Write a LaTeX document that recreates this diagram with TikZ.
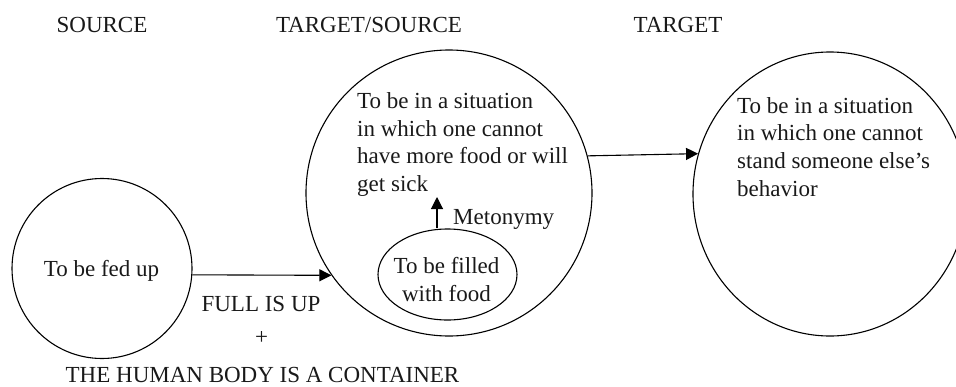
\documentclass[tikz,border=0pt]{standalone}
\usepackage{fontspec}
\setmainfont{Liberation Serif}
\usetikzlibrary{arrows.meta,shapes.geometric}
\begin{document}
\begin{tikzpicture}[x=1pt,y=-1pt,
  txt/.style={font=\fontsize{23}{27.8}\selectfont, inner sep=0pt, text=black!90},
  bubble/.style={draw, line width=1.1pt, inner sep=0pt},
  link/.style={line width=1.1pt, -{Triangle[length=12pt,width=12pt]}}]
\useasboundingbox (0,0) rectangle (956,386);

% column headings
\node[txt, anchor=base] (hsrc) at (102,32) {SOURCE};
\node[txt, anchor=base] (hmid) at (369,32) {TARGET/SOURCE};
\node[txt, anchor=base] (htgt) at (678,32) {TARGET};

% domains
\node[bubble, circle, minimum size=180pt] (src) at (102,268.5) {};
\node[bubble, circle, minimum size=286pt] (mid) at (449,193) {};
\node[bubble, ellipse, minimum width=274pt, minimum height=284pt] (tgt) at (830,194) {};
\node[bubble, ellipse, minimum width=139pt, minimum height=91pt] (food) at (447.5,274.5) {};

% domain contents (base anchor sits on the last line of a wrapped text)
\node[txt, anchor=base] (fed) at (101.5,276) {To be fed up};
\node[txt, anchor=base west, align=left] (midtext) at (357,191.7)
  {To be in a situation\\in which one cannot\\have more food or will\\get sick};
\node[txt, anchor=base west, align=left] (tgttext) at (737,196.5)
  {To be in a situation\\in which one cannot\\stand someone else’s\\behavior};
\node[txt, anchor=base, align=center] (foodtext) at (446.5,301) {To be filled\\with food};

% labels
\node[txt, anchor=base west] (meto) at (453,224) {Metonymy};
\node[txt, anchor=base] (full) at (261,311.7) {FULL IS UP};
\node[txt, anchor=base] (plus) at (261.7,344) {+};
\node[txt, anchor=base] (body) at (262.5,382.7) {THE HUMAN BODY IS A CONTAINER};

% connectors
\coordinate (metotip) at (437,197);
\draw[link] (food.north -| metotip) -- (metotip);
\draw[link] (src.-4) -- (mid.215);
\draw[link] (mid.15.8) -- (tgt.163.1);
\end{tikzpicture}
\end{document}
